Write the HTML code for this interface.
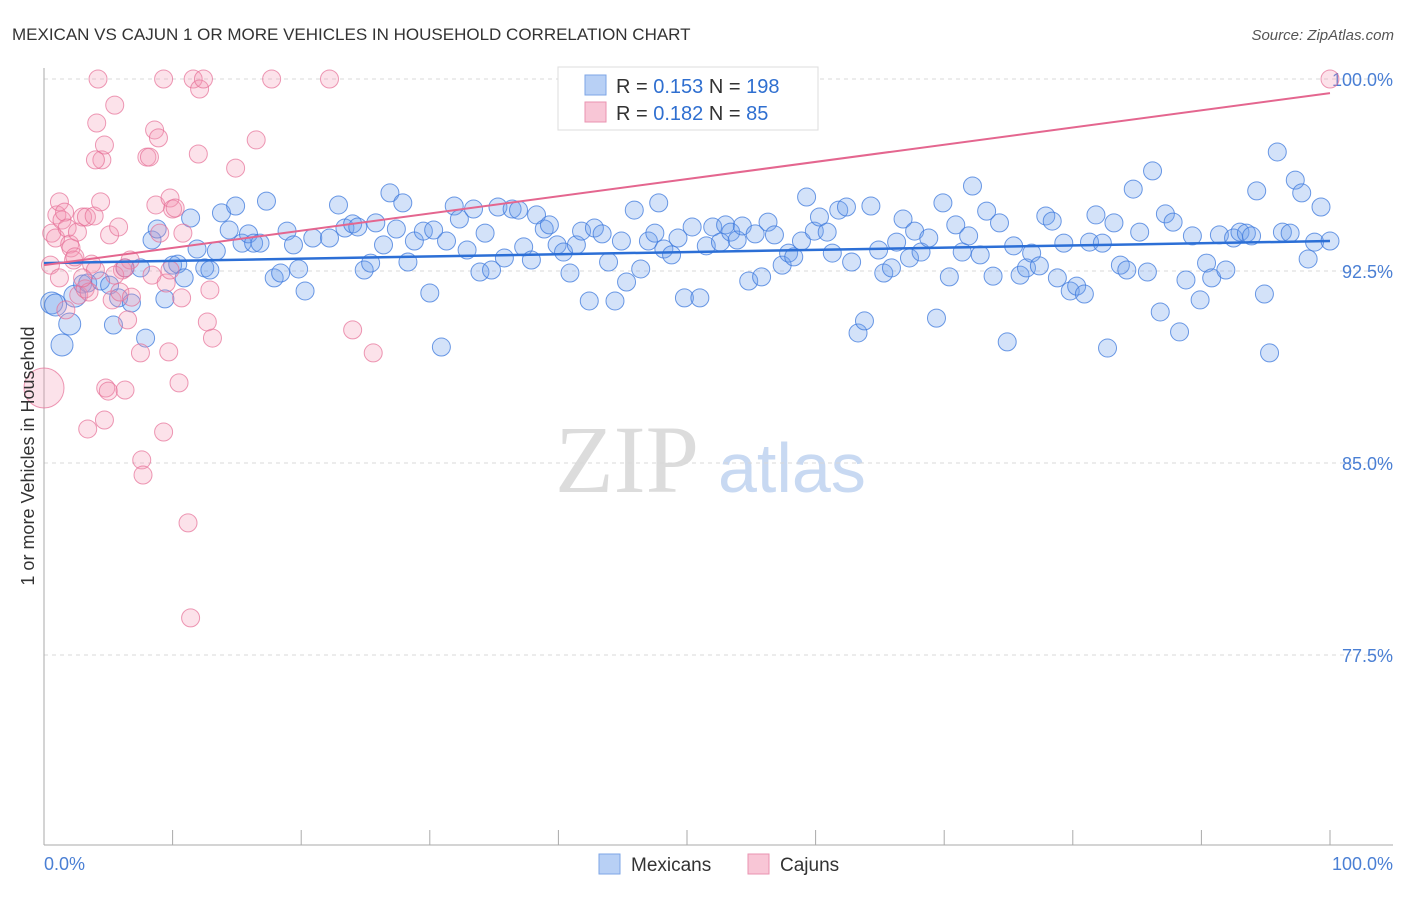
<!DOCTYPE html>
<html><head><meta charset="utf-8"><style>
body{margin:0;background:#fff;font-family:"Liberation Sans",sans-serif}
svg text{font-family:"Liberation Sans",sans-serif}
</style></head><body>
<svg id="chart" width="1406" height="892" xmlns="http://www.w3.org/2000/svg">
<text x="12" y="40" font-size="17" fill="#333">MEXICAN VS CAJUN 1 OR MORE VEHICLES IN HOUSEHOLD CORRELATION CHART</text>
<text x="1394" y="40" font-size="15" fill="#555" text-anchor="end" font-style="italic">Source: ZipAtlas.com</text>
<text x="555" y="492" font-size="96" fill="#dcdcdc" font-family="Liberation Serif" style="font-family:'Liberation Serif',serif">ZIP</text>
<text x="718" y="492" font-size="70" fill="#c8d9f2">atlas</text>
<g id="grid"></g>
<g id="axes"></g>
<g id="pts"></g>
<g id="trends"></g>
<text transform="translate(34,456) rotate(-90)" font-size="18" fill="#333" text-anchor="middle">1 or more Vehicles in Household</text>
<g>
<rect x="558" y="67" width="260" height="63" fill="#fff" stroke="#ddd"/>
<rect x="585" y="75" width="21" height="20" fill="#b8d0f5" stroke="#7ea6e6"/>
<rect x="585" y="102" width="21" height="20" fill="#f8c6d6" stroke="#ea93b0"/>
<text x="616" y="93" font-size="20" fill="#333">R = <tspan fill="#2f6fd0">0.153</tspan>   N = <tspan fill="#2f6fd0">198</tspan></text>
<text x="616" y="120" font-size="20" fill="#333">R = <tspan fill="#2f6fd0">0.182</tspan>   N =  <tspan fill="#2f6fd0"> 85</tspan></text>
</g>
<g>
<rect x="599" y="854" width="21" height="20" fill="#b8d0f5" stroke="#7ea6e6"/>
<text x="631" y="871" font-size="19" fill="#333">Mexicans</text>
<rect x="748" y="854" width="21" height="20" fill="#f8c6d6" stroke="#ea93b0"/>
<text x="780" y="871" font-size="19" fill="#333">Cajuns</text>
</g>
</svg>
<script>
const yTicks=[100,92.5,85,77.5];
const yTickLabels=["100.0%","92.5%","85.0%","77.5%"];
const xTickLabels=["0.0%","100.0%"];
const blueX=[0.6,0.9,2.0,1.4,2.4,3.0,3.4,4.4,5.1,5.4,5.8,6.3,6.8,7.5,7.9,8.4,8.8,9.4,10.0,10.4,10.9,11.4,11.9,12.5,12.9,13.4,13.8,14.4,14.9,15.4,15.9,16.3,16.8,17.3,17.9,18.4,18.9,19.4,19.8,20.3,20.9,22.2,22.9,23.4,24.0,24.4,24.9,25.4,25.8,26.4,26.9,27.4,27.9,28.3,28.8,29.5,30.0,30.3,30.9,31.3,31.9,32.3,32.9,33.4,33.9,34.3,34.8,35.3,35.8,36.4,36.9,37.3,37.9,38.3,38.9,39.3,39.9,40.4,40.9,41.4,41.8,42.4,42.8,43.4,43.9,44.4,44.9,45.3,45.9,46.4,47.0,47.5,47.8,48.2,48.8,49.3,49.8,50.4,51.0,51.5,52.0,52.6,53.0,53.4,53.9,54.3,54.8,55.3,55.8,56.3,56.8,57.4,57.9,58.3,58.9,59.3,59.9,60.3,60.9,61.3,61.8,62.4,62.8,63.3,63.8,64.3,64.9,65.3,65.9,66.3,66.8,67.3,67.7,68.2,68.8,69.4,69.9,70.4,70.9,71.4,71.9,72.2,72.8,73.3,73.8,74.3,74.9,75.4,75.9,76.4,76.8,77.4,77.9,78.4,78.8,79.3,79.8,80.3,80.9,81.3,81.8,82.3,82.7,83.2,83.7,84.2,84.7,85.2,85.8,86.2,86.8,87.2,87.8,88.3,88.8,89.3,89.9,90.4,90.8,91.4,91.9,92.5,93.0,93.5,93.9,94.3,94.9,95.3,95.9,96.3,96.9,97.3,97.8,98.3,98.8,99.3,100];
const blueY=[91.25,91.17,90.43,89.61,91.52,91.99,92.03,92.11,91.95,90.39,91.45,92.62,91.25,92.62,89.88,93.71,94.14,91.41,92.73,92.77,92.23,94.57,93.36,92.62,92.54,93.28,94.77,94.10,95.04,93.59,93.95,93.59,93.59,95.23,92.23,92.42,94.06,93.52,92.58,91.72,93.79,93.79,95.08,94.18,94.34,94.22,92.54,92.81,94.38,93.52,95.55,94.14,95.16,92.85,93.67,94.06,91.64,94.10,89.53,93.67,95.04,94.53,93.32,94.92,92.46,93.98,92.54,95.00,93.01,94.92,94.88,93.44,92.93,94.69,94.14,94.30,93.52,93.24,92.42,93.52,94.06,91.33,94.18,93.95,92.85,91.33,93.67,92.07,94.88,92.58,93.67,93.98,95.16,93.36,93.13,93.79,91.45,94.22,91.45,93.48,94.22,93.63,94.30,94.02,93.71,94.26,92.11,93.95,92.27,94.41,93.91,92.73,93.20,93.05,93.67,95.39,94.06,94.61,94.02,93.20,94.88,95.00,92.85,90.08,90.55,95.04,93.32,92.42,92.62,93.63,94.53,93.01,94.06,93.24,93.79,90.66,95.16,92.27,94.30,93.24,93.87,95.82,93.13,94.84,92.30,94.38,89.73,93.48,92.34,92.62,93.20,92.70,94.65,94.45,92.23,93.59,91.72,91.91,91.60,93.63,94.69,93.59,89.49,94.38,92.73,92.54,95.70,94.02,92.46,96.41,90.90,94.73,94.41,90.12,92.15,93.87,91.37,92.81,92.23,93.91,92.54,93.79,94.02,93.98,93.87,95.63,91.60,89.30,97.15,94.02,93.98,96.05,95.55,92.97,93.63,95.00,93.67];
const pinkX=[0.0,0.5,0.6,0.9,1.0,1.2,1.4,1.6,1.8,2.0,2.1,2.3,2.4,2.6,2.7,3.0,3.2,3.3,3.5,3.7,3.9,4.0,4.2,4.4,4.5,4.7,4.1,4.0,4.8,5.0,5.1,5.3,5.5,5.8,5.9,6.1,6.3,6.5,6.7,6.8,7.5,7.6,7.7,8.0,8.2,8.4,8.6,8.7,8.9,9.0,9.3,9.5,9.7,9.8,10.0,10.2,10.5,10.7,10.8,11.2,11.4,11.6,12.0,12.1,12.4,12.7,12.9,13.1,14.9,16.5,17.7,22.2,24.0,25.6,100,3.4,4.7,9.3,1.7,3.0,1.2,5.5,6.3,9.8];
const pinkY=[87.93,92.73,93.98,93.79,94.69,95.20,94.49,94.80,94.18,93.55,93.40,92.93,93.05,94.02,91.56,94.61,91.80,94.61,91.68,92.77,94.65,92.54,100,95.20,96.84,97.42,98.28,96.84,87.93,87.81,93.91,91.37,98.98,94.22,91.68,92.54,87.85,90.59,92.93,91.48,89.30,85.12,84.53,96.95,96.95,92.34,98.01,95.08,97.70,93.98,100,92.03,89.34,95.35,94.92,94.96,88.13,91.45,93.98,82.66,78.95,100,97.07,99.61,100,90.51,91.76,89.88,96.52,97.62,100,100,90.20,89.30,100,86.33,86.68,86.21,90.98,92.23,92.23,92.34,92.62,92.54];
const blueTrend=[92.81,93.67];
const pinkTrend=[92.73,99.45];

const X0=44,X1=1330,Ytop=79,PX_PER_PCT=25.6;
const sx=v=>X0+(X1-X0)*v/100;
const sy=v=>Ytop+(100-v)*PX_PER_PCT;
const NS="http://www.w3.org/2000/svg";
function mk(tag,parent,attrs){const e=document.createElementNS(NS,tag);for(const k in attrs)e.setAttribute(k,attrs[k]);parent.appendChild(e);return e;}
const grid=document.getElementById('grid'),axes=document.getElementById('axes'),pts=document.getElementById('pts'),tr=document.getElementById('trends');
yTicks.forEach((t,i)=>{
  const l=mk('line',grid,{x1:44,x2:1393,y1:sy(t),y2:sy(t),stroke:'#d8d8d8','stroke-dasharray':'4,4'});
  
  
  const tx=mk('text',grid,{x:1393,y:sy(t)+7,'font-size':18,fill:'#4a7fd4','text-anchor':'end'});
  tx.textContent=yTickLabels[i];
  
  
});
const ya=mk('line',axes,{x1:44,x2:44,y1:68,y2:845,stroke:'#aaa'});


const xa=mk('line',axes,{x1:44,x2:1393,y1:845,y2:845,stroke:'#aaa'});


for(let k=0;k<=10;k++){
  const t=mk('line',axes,{x1:sx(k*10),x2:sx(k*10),y1:830,y2:845,stroke:'#aaa'});
  
  
}
[[0,'start',44],[1,'end',1393]].forEach(([i,a,x])=>{
  const t=mk('text',axes,{x:x,y:870,'font-size':18,fill:'#4a7fd4','text-anchor':a});
  t.textContent=xTickLabels[i];
  
  
});
blueX.forEach((x,i)=>{
  const r=(i<5)?11:9;
  const c=mk('circle',pts,{cx:sx(x),cy:sy(blueY[i]),r:r,fill:'rgba(110,160,235,0.3)',stroke:'rgba(60,120,220,0.75)','stroke-width':1});
  
  
});
pinkX.forEach((x,i)=>{
  const r=(i===0)?20:9;
  const c=mk('circle',pts,{cx:sx(x),cy:sy(pinkY[i]),r:r,fill:'rgba(245,150,180,0.28)',stroke:'rgba(230,110,150,0.7)','stroke-width':1});
  
  
});
const bl=mk('line',tr,{x1:sx(0),y1:sy(blueTrend[0]),x2:sx(100),y2:sy(blueTrend[1]),stroke:'#2c6fd6','stroke-width':2.5});


const pl=mk('line',tr,{x1:sx(0),y1:sy(pinkTrend[0]),x2:sx(100),y2:sy(pinkTrend[1]),stroke:'#e4668f','stroke-width':2});


</script>
</body></html>
